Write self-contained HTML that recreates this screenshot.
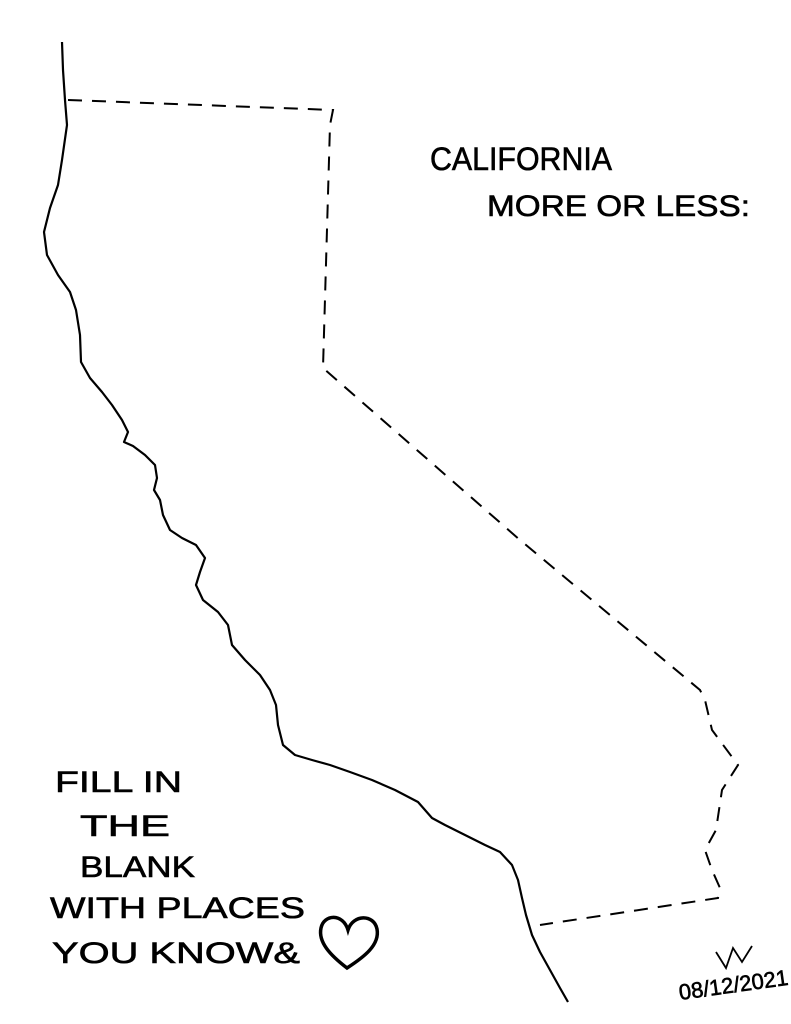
<!DOCTYPE html>
<html><head><meta charset="utf-8"><style>
html,body{margin:0;padding:0;background:#fff;}
svg{display:block;}
text{font-family:"Liberation Sans",sans-serif;fill:#000;stroke:#000;stroke-width:0.6;}
</style></head><body>
<svg width="791" height="1024" viewBox="0 0 791 1024" xmlns="http://www.w3.org/2000/svg">
<path d="M62,42 L63,70 L65,100 L67,125 L62,160 L58,185 L50,208 L44,232 L47,255 L58,275 L70,292 L76,310 L80,335 L81,362 L90,378 L102,392 L112,405 L122,420 L128,432 L124,442 L133,446 L145,455 L155,465 L157,478 L154,490 L160,500 L163,515 L170,530 L182,538 L196,545 L205,558 L200,572 L196,585 L203,600 L218,612 L228,625 L232,645 L245,660 L260,675 L270,690 L276,705 L278,725 L283,745 L295,755 L312,760 L330,765 L350,772 L372,780 L395,790 L418,802 L432,818 L445,825 L465,835 L485,845 L500,852 L512,865 L518,880 L522,898 L526,915 L532,935 L540,952 L550,970 L560,988 L568,1002" fill="none" stroke="#000" stroke-width="2.2" stroke-linejoin="round"/>
<path d="M68,100 L333,110 L330,125 L323,368 L520,540 L700,690 L705,700 L712,730 L738,765 L722,790 L716,830 L705,850 L712,870 L720,888 L718,898 L540,925" fill="none" stroke="#000" stroke-width="2" stroke-dasharray="14,10"/>
<text x="430" y="170" font-size="32" textLength="182" lengthAdjust="spacingAndGlyphs">CALIFORNIA</text>
<text x="487" y="216" font-size="30" textLength="263" lengthAdjust="spacingAndGlyphs">MORE OR LESS:</text>
<text x="55" y="792" font-size="30" textLength="127" lengthAdjust="spacingAndGlyphs">FILL IN</text>
<text x="80" y="836" font-size="30" textLength="90" lengthAdjust="spacingAndGlyphs">THE</text>
<text x="80" y="877" font-size="30" textLength="115" lengthAdjust="spacingAndGlyphs">BLANK</text>
<text x="50" y="918" font-size="30" textLength="255" lengthAdjust="spacingAndGlyphs">WITH PLACES</text>
<text x="52" y="963" font-size="30" textLength="248" lengthAdjust="spacingAndGlyphs">YOU KNOW&amp;</text>
<path d="M347,968 C330,955 318,942 321,928 C324,914 343,913 348,930 C353,914 374,914 377,929 C380,945 364,957 347,968 Z" fill="none" stroke="#000" stroke-width="3.5"/>
<path d="M716,952 L726,968 L733,948 L742,962 L752,946" fill="none" stroke="#000" stroke-width="1.8"/>
<text x="680" y="1000" font-size="22" textLength="110" lengthAdjust="spacingAndGlyphs" transform="rotate(-8 680 1000)">08/12/2021</text>
</svg>
</body></html>
